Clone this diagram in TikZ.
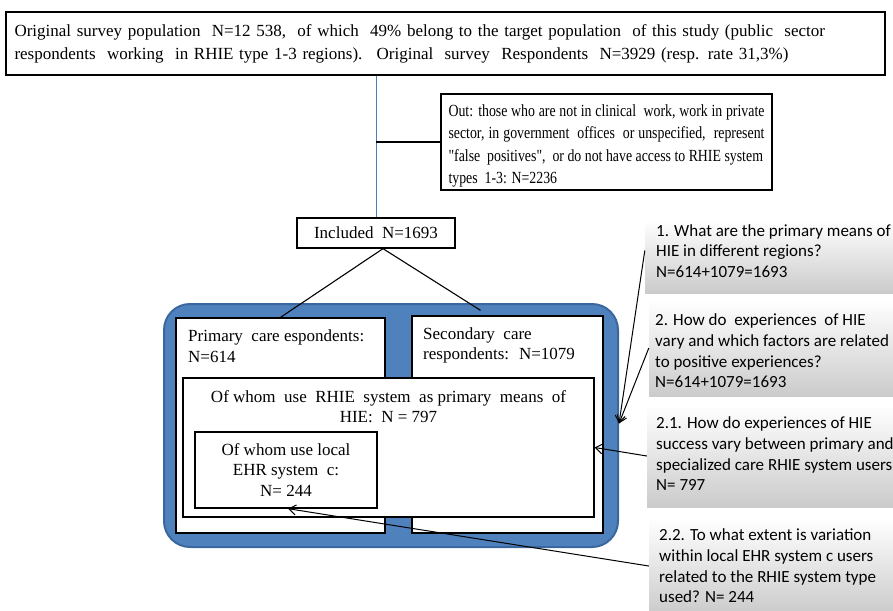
\documentclass[tikz,border=0pt]{standalone}
\usepackage{fontspec}
\setmainfont{Liberation Serif}
\newfontfamily\narrowfont{Liberation Serif}[FakeStretch=0.815]
\newfontfamily\qfont{Carlito}
\usetikzlibrary{arrows.meta, positioning}
\definecolor{panelblue}{HTML}{4F81BD}
\definecolor{paneledge}{HTML}{3A679E}
\definecolor{flowblue}{HTML}{4A7EBB}
\definecolor{qgrey}{HTML}{CBCBCB}
\tikzset{
  sbox/.style={rectangle, draw=black, fill=white, line width=1.3pt, inner sep=0pt},
  stext/.style={font=\fontsize{17}{22.8}\selectfont, inner sep=0pt},
  otext/.style={font=\narrowfont\fontsize{17}{22.4}\selectfont, inner sep=0pt},
  itext/.style={font=\fontsize{17}{20.5}\selectfont, inner sep=0pt},
  panel/.style={rectangle, draw=paneledge, fill=panelblue, line width=2pt,
                rounded corners=26pt, inner sep=0pt},
  qbox/.style={rectangle, top color=white, bottom color=qgrey, inner sep=0pt},
  qtext/.style={font=\qfont\fontsize{17}{20.7}\selectfont, align=left, inner sep=0pt},
  link/.style={draw=black, line width=1.1pt},
  qarrow/.style={-{Straight Barb[length=7pt,width=10pt]}, line width=1pt},
}
\begin{document}
\begin{tikzpicture}[x=1pt, y=-1pt]
  \useasboundingbox (0,0) rectangle (893,610);

  % --- top of the flow ---
  \node[sbox, stext, minimum width=879pt, minimum height=63pt, text width=862pt, align=left]
    (orig) at (445.5,43.5)
    {\makebox[830pt][s]{Original survey population \ N=12 538, \ of which \ 49\% belong to the target population \ of this study (public \ sector}\\
     respondents \ working \ in RHIE type 1-3 regions). \ Original \ survey \ Respondents \ N=3929 (resp. rate 31,3\%)};
  \node[sbox, minimum width=331pt, minimum height=96pt] (out) at (606.5,142) {};
  \node[otext, text width=316pt, align=justify] (out-t) at (606.5,146)
    {Out: those who are not in clinical \ work, work in private\linebreak
     sector, in government \ offices \ or unspecified, \ represent\linebreak
     "false \ positives", \ or do not have access to RHIE system\\
     types \ 1-3: N=2236};
  \node[sbox, stext, minimum width=158pt, minimum height=30pt] (inc) at (376,233) {Included \ N=1693};

  \draw[draw=flowblue, line width=0.9pt] (inc.north |- orig.south) -- (inc.north);
  \draw[link] (inc.north |- out.west) -- (out.west);

  % --- respondent groups ---
  \node[panel, minimum width=454pt, minimum height=243pt] (panel) at (391,425.5) {};
  \node[sbox, minimum width=209pt, minimum height=215pt] (prim) at (280.5,425.5) {};
  \node[sbox, minimum width=191pt, minimum height=217pt] (sec) at (507.5,424.5) {};
  \node[sbox, minimum width=411pt, minimum height=139pt] (rhie) at (388.5,447.5) {};
  \node[sbox, itext, minimum width=182pt, minimum height=76pt, align=center] (ehr) at (286,470)
    {Of whom use local\\EHR system \ c:\\N= 244};

  \node[itext, anchor=north west, align=left] (prim-t) at (188,329.5)
    {Primary \ care espondents:\\N=614};
  \node[itext, anchor=north west, align=left] (sec-t) at (423,327)
    {Secondary \ care\\respondents: \ N=1079};
  \node[itext, anchor=north, align=center] (rhie-t) at (388.5,390)
    {Of whom \ use \ RHIE \ system \ as primary \ means \ of\\HIE: \ N = 797};

  \draw[link] ([xshift=7pt]inc.south) -- (prim.north);
  \draw[link] ([xshift=7pt]inc.south) -- ([xshift=-27pt,yshift=5pt]sec.north);

  % --- research questions ---
  \node[qbox, minimum width=250pt, minimum height=73pt] (q1) at (770,256.5) {};
  \node[qbox, minimum width=250pt, minimum height=96pt] (q2) at (774,348) {};
  \node[qbox, minimum width=250pt, minimum height=102pt] (q3) at (772,456) {};
  \node[qbox, minimum width=250pt, minimum height=96pt] (q4) at (774,566) {};

  \node[qtext, anchor=west] (q1-t) at (656,251)
    {1. What are the primary means of\\HIE in different regions?\\N=614+1079=1693};
  \node[qtext, anchor=west] (q2-t) at (655,351)
    {2. How do \ experiences \ of HIE\\vary and which factors are related\\to positive experiences?\\N=614+1079=1693};
  \node[qtext, anchor=west] (q3-t) at (656,454)
    {2.1. How do experiences of HIE\\success vary between primary and\\specialized care RHIE system users\\N= 797};
  \node[qtext, anchor=west] (q4-t) at (659,566)
    {2.2. To what extent is variation\\within local EHR system c users\\related to the RHIE system type\\used? N= 244};

  \draw[qarrow] ([yshift=6pt]q1.west) -- ([yshift=2pt]panel.east);
  \draw[qarrow] (q2.west) -- ([yshift=2pt]panel.east);
  \draw[qarrow] (q3.west) -- (rhie.east);
  \draw[qarrow] (q4.west) -- ([xshift=2pt]ehr.south);
\end{tikzpicture}
\end{document}
